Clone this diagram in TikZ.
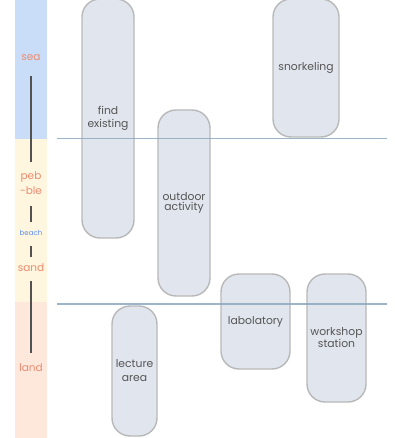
\documentclass[tikz,border=0pt]{standalone}
\usepackage{fontspec}
\setmainfont{Poppins}
\definecolor{seac}{HTML}{C9DDF8}
\definecolor{beachc}{HTML}{FEF6DF}
\definecolor{landc}{HTML}{FDE8DB}
\definecolor{salmon}{HTML}{EE8B70}
\definecolor{bluet}{HTML}{5B8DEF}
\definecolor{boxfill}{HTML}{E1E6EE}
\definecolor{boxdraw}{HTML}{B8B8B8}
\definecolor{hline}{HTML}{8CA8BE}
\definecolor{txt}{HTML}{555555}
\tikzset{
  zone/.style={text=salmon, font=\fontsize{10.5}{12}\selectfont, inner sep=0pt},
  area/.style={draw=boxdraw, line width=1.4pt, fill=boxfill, rounded corners=18pt, text=txt, align=center, inner sep=0pt},
  divider/.style={draw=hline, line width=1.3pt, opacity=0.85},
  tick/.style={draw=black!68, line width=1.3pt}
}
\begin{document}
\begin{tikzpicture}[x=1pt,y=-1pt]
\useasboundingbox (0,0) rectangle (394,438);
% strip
\fill[seac] (15,0) rectangle (47,139);
\fill[beachc] (15,139) rectangle (47,302);
\fill[landc] (15,302) rectangle (47,438);
% zone labels
\node[zone] (sea) at (31,58) {sea};
\node[zone, align=center, font=\fontsize{10.5}{14.5}\selectfont] (peb) at (31,183) {peb\\-ble};
\node[zone, text=bluet, font=\fontsize{7}{8}\selectfont] (beach) at (31,233) {beach};
\node[zone] (sand) at (31,268) {sand};
\node[zone] (land) at (31,368) {land};
\coordinate (t1a) at (31,76); \coordinate (t1b) at (31,162);
\coordinate (t2a) at (31,206); \coordinate (t2b) at (31,222);
\coordinate (t3a) at (31,246); \coordinate (t3b) at (31,257);
\coordinate (t4a) at (31,281); \coordinate (t4b) at (31,353);
\draw[tick] (t1a) -- (t1b);
\draw[tick] (t2a) -- (t2b);
\draw[tick] (t3a) -- (t3b);
\draw[tick] (t4a) -- (t4b);
% boxes
\node[area, minimum width=52pt, minimum height=239pt, font=\fontsize{10.8}{13.5}\selectfont] (find) at (108,118.5) {find\\existing};
\node[area, minimum width=66pt, minimum height=138pt, font=\fontsize{10.8}{12}\selectfont] (snork) at (306,68) {snorkeling};
\node[area, minimum width=52pt, minimum height=186pt, font=\fontsize{10.8}{10}\selectfont] (outdoor) at (184,203) {outdoor\\activity};
\node[area, minimum width=69pt, minimum height=95pt, font=\fontsize{10.8}{12}\selectfont] (lab) at (255.5,321.5) {labolatory};
\node[area, minimum width=59pt, minimum height=128pt, font=\fontsize{10.8}{10}\selectfont] (work) at (336.5,338) {workshop\\station};
\node[area, minimum width=45pt, minimum height=130pt, font=\fontsize{10.8}{14}\selectfont] (lect) at (134.5,371) {lecture\\area};
% dividers
\coordinate (d1a) at (57,138.5); \coordinate (d1b) at (387,138.5);
\coordinate (d2a) at (57,304); \coordinate (d2b) at (387,304);
\draw[divider] (d1a) -- (d1b);
\draw[divider] (d2a) -- (d2b);
\end{tikzpicture}
\end{document}
